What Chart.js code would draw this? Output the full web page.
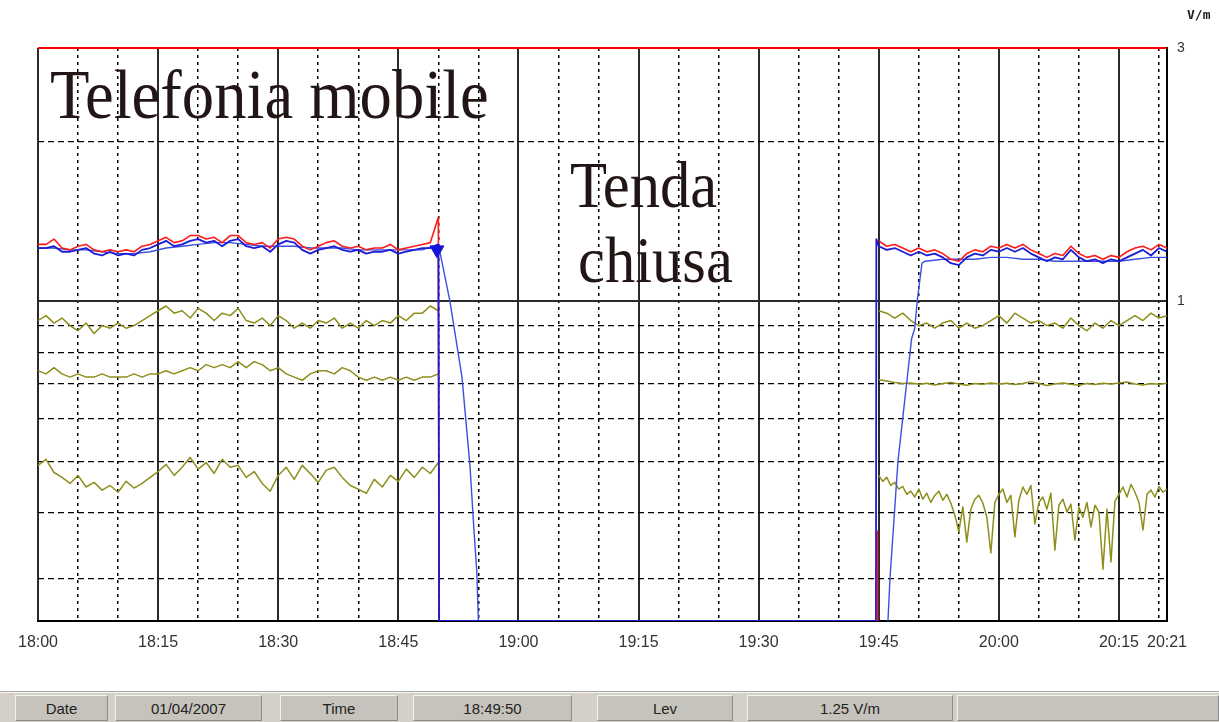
<!DOCTYPE html>
<html>
<head>
<meta charset="utf-8">
<script src="https://cdn.jsdelivr.net/npm/chart.js@4.4.0/dist/chart.umd.min.js"></script>
<style>
  body { margin: 0; background: #fff; width: 1219px; height: 722px; overflow: hidden; position: relative; font-family: "Liberation Sans", Arial, sans-serif; }
  #chart { position: absolute; left: 0; top: 0; }
  #unit { position: absolute; left: 1187px; top: 7px; font: bold 13px "DejaVu Sans Mono", monospace; color: #222; }
  #status { position: absolute; left: 0; top: 691px; width: 1219px; height: 31px; background: #d4d0c8; border-top: 1px solid #a8a8a8; box-shadow: inset 0 1px 0 #f6f6f6; }
  .cell { position: absolute; top: 3px; height: 26px; line-height: 25px; text-align: center; background: #c6c3bd; border: 1px solid; border-color: #f2f2f2 #8a8a8a #8a8a8a #f2f2f2; box-sizing: border-box; font-size: 15px; color: #222; }
</style>
</head>
<body>
<canvas id="chart" width="1219" height="680"></canvas>
<div id="unit">V/m</div>
<div id="status">
  <div class="cell" style="left:15px;width:93px">Date</div>
  <div class="cell" style="left:115px;width:147px">01/04/2007</div>
  <div class="cell" style="left:280px;width:118px">Time</div>
  <div class="cell" style="left:413px;width:159px">18:49:50</div>
  <div class="cell" style="left:597px;width:136px">Lev</div>
  <div class="cell" style="left:747px;width:206px">1.25 V/m</div>
  <div class="cell" style="left:957px;width:262px"></div>
</div>
<script>
// time axis: minutes after 18:00
const leftMinutes = Array.from({length: 51}, (_, i) => i);          // 18:00 .. 18:50
const rightMinutes = Array.from({length: 37}, (_, i) => 105 + i);   // 19:45 .. 20:21
const rightHalfMinutes = Array.from({length: 73}, (_, i) => 105 + i / 2);

const xTickMinutes = Array.from({length: 29}, (_, i) => i * 5).concat([141]);
const xLabelMinutes = [0, 15, 30, 45, 60, 75, 90, 105, 120, 135, 141];
const yGridValues = [0.3, 0.4, 0.5, 0.6, 0.7, 0.8, 0.9, 1, 2, 3];
const yLabelValues = [1, 3];

const floorLevel = 0.25;
const limitLevel = 3;

// red: peak level
const peakLeft = [1.28,1.28,1.31,1.26,1.25,1.27,1.28,1.25,1.24,1.25,
  1.24,1.25,1.24,1.27,1.28,1.30,1.32,1.29,1.30,1.33,
  1.33,1.31,1.32,1.29,1.33,1.33,1.29,1.28,1.29,1.26,
  1.31,1.32,1.31,1.27,1.25,1.27,1.29,1.30,1.27,1.26,
  1.27,1.25,1.26,1.26,1.28,1.25,1.26,1.27,1.28,1.29,
  1.44];
const peakJumpMinutes = [50.1, 104.8, 104.85];
const peakJump = [0.25, 0.25, 0.37];
const peakRight = [1.30,1.27,1.28,1.26,1.24,1.26,1.24,1.25,1.23,1.20,
  1.19,1.23,1.25,1.24,1.27,1.26,1.28,1.26,1.28,1.25,
  1.23,1.21,1.23,1.22,1.27,1.23,1.21,1.22,1.20,1.22,
  1.21,1.24,1.26,1.27,1.25,1.28,1.26];

// blue: instantaneous level
const levelLeft = [1.26,1.26,1.27,1.24,1.24,1.25,1.26,1.23,1.22,1.24,
  1.22,1.23,1.22,1.25,1.26,1.28,1.30,1.27,1.28,1.30,
  1.31,1.29,1.30,1.27,1.30,1.31,1.27,1.26,1.27,1.24,
  1.28,1.30,1.29,1.25,1.23,1.25,1.26,1.27,1.25,1.24,
  1.25,1.23,1.24,1.24,1.25,1.23,1.24,1.25,1.26,1.26,
  1.28];
const levelJumpMinutes = [50.1, 104.65, 104.7];
const levelJump = [0.25, 0.25, 1.31];
const levelRight = [1.27,1.25,1.26,1.24,1.22,1.24,1.22,1.23,1.21,1.18,
  1.17,1.21,1.23,1.22,1.25,1.24,1.26,1.24,1.26,1.23,
  1.21,1.19,1.21,1.20,1.25,1.21,1.19,1.20,1.18,1.20,
  1.19,1.21,1.23,1.25,1.22,1.26,1.24];

// light blue: running average
const avgLeftMinutes = [0,2,4,6,8,10,12,14,16,18,20,22,24,26,28,30,32,34,36,38,40,42,44,46,48,50,
  51.45,52.95,53.95,54.45,54.8,55];
const avgLeft = [1.26,1.26,1.25,1.25,1.24,1.23,1.23,1.24,1.26,1.27,
  1.28,1.29,1.29,1.28,1.27,1.27,1.27,1.26,1.26,1.26,
  1.25,1.25,1.25,1.25,1.25,1.28,
  1.0,0.72,0.49,0.37,0.31,0.25];
const avgRightMinutes = [106.15,106.4,107.4,109.1,109.5,109.8,110.4,110.8,
  113,115,117,119,121,123,125,127,129,131,133,135,137,139,141];
const avgRight = [0.25,0.30,0.50,0.85,0.89,1.0,1.18,1.19,
  1.20,1.20,1.20,1.21,1.21,1.20,1.20,1.19,1.19,1.19,1.19,1.19,1.20,1.21,1.21];

// olive: other bands
const oliveHighLeft = [0.92,0.94,0.91,0.93,0.90,0.88,0.91,0.87,0.90,0.89,
  0.91,0.89,0.90,0.92,0.94,0.96,0.98,0.95,0.96,0.93,
  0.97,0.95,0.92,0.95,0.94,0.97,0.92,0.91,0.93,0.90,
  0.94,0.92,0.89,0.91,0.89,0.92,0.91,0.93,0.89,0.91,
  0.89,0.92,0.90,0.92,0.91,0.94,0.92,0.95,0.95,0.98,
  0.96];
const oliveHighRight = [0.96,0.95,0.93,0.95,0.92,0.90,0.91,0.89,0.91,0.92,
  0.89,0.91,0.89,0.90,0.92,0.94,0.91,0.95,0.93,0.91,
  0.92,0.90,0.91,0.89,0.93,0.90,0.88,0.91,0.89,0.92,
  0.90,0.92,0.94,0.92,0.95,0.93,0.94];
const oliveMidLeft = [0.74,0.73,0.75,0.73,0.72,0.73,0.72,0.72,0.73,0.72,
  0.72,0.72,0.73,0.72,0.73,0.73,0.74,0.73,0.74,0.75,
  0.74,0.76,0.75,0.76,0.75,0.77,0.75,0.77,0.76,0.74,
  0.75,0.73,0.72,0.71,0.73,0.74,0.74,0.73,0.75,0.74,
  0.72,0.71,0.72,0.71,0.72,0.71,0.72,0.71,0.72,0.72,
  0.73];
const oliveMidRight = [0.712,0.708,0.703,0.700,0.702,0.698,0.701,0.696,0.700,0.703,
  0.699,0.695,0.700,0.698,0.702,0.699,0.701,0.697,0.700,0.706,
  0.700,0.694,0.699,0.702,0.698,0.695,0.700,0.697,0.701,0.699,
  0.702,0.705,0.699,0.696,0.700,0.698,0.701];
const oliveLowLeft = [0.491,0.504,0.476,0.466,0.454,0.470,0.447,0.456,0.441,0.450,
  0.437,0.458,0.445,0.454,0.466,0.478,0.493,0.470,0.487,0.508,
  0.483,0.497,0.474,0.504,0.487,0.491,0.466,0.478,0.454,0.439,
  0.470,0.487,0.462,0.491,0.474,0.456,0.481,0.487,0.466,0.450,
  0.443,0.435,0.462,0.447,0.470,0.458,0.483,0.466,0.487,0.474,
  0.497];
const oliveLowRight = [0.470,0.458,0.466,0.450,0.456,0.443,0.448,0.433,0.439,0.428,
  0.443,0.424,0.435,0.418,0.431,0.439,0.422,0.433,0.417,0.396,
  0.368,0.410,0.352,0.406,0.424,0.431,0.417,0.392,0.336,0.418,
  0.433,0.443,0.418,0.431,0.360,0.422,0.447,0.433,0.450,0.381,
  0.418,0.428,0.406,0.435,0.340,0.413,0.424,0.401,0.415,0.355,
  0.410,0.392,0.418,0.376,0.413,0.401,0.313,0.406,0.323,0.420,
  0.433,0.447,0.428,0.452,0.437,0.418,0.371,0.433,0.441,0.428,
  0.448,0.437,0.443];

// cursor
const cursorMinutes = [49.83];
const cursorLevel = [1.25];

function pts(times, values) {
  return times.map((t, i) => ({x: t, y: values[i]}));
}
const gap = [{x: 77, y: null}];

function hhmm(m) {
  const h = 18 + Math.floor(m / 60);
  return h + ':' + String(m % 60).padStart(2, '0');
}

// big text notes on the plot
const notesPlugin = {
  id: 'notes',
  afterDraw(chart) {
    const ctx = chart.ctx;
    const notes = [
      {text: 'Telefonia mobile', x: 50, y: 118, size: 64},
      {text: 'Tenda', x: 570, y: 207, size: 60},
      {text: 'chiusa', x: 578, y: 282, size: 60}
    ];
    ctx.save();
    ctx.fillStyle = '#221515';
    ctx.textBaseline = 'alphabetic';
    notes.forEach(n => {
      ctx.save();
      ctx.translate(n.x, n.y);
      ctx.scale(1.01, 1.1);
      ctx.font = n.size + 'px "Liberation Serif", "Times New Roman", serif';
      ctx.fillText(n.text, 0, 0);
      ctx.restore();
    });
    ctx.restore();
  }
};

const isMajorX = v => v % 15 === 0 || v === 141;

new Chart(document.getElementById('chart'), {
  type: 'line',
  data: {
    datasets: [
      {
        label: 'cursor',
        data: pts(cursorMinutes, cursorLevel),
        showLine: false,
        pointStyle: 'triangle',
        rotation: 180,
        pointRadius: 8,
        backgroundColor: '#1414d8',
        borderColor: '#1414d8'
      },
      {
        label: 'level',
        data: pts(leftMinutes, levelLeft).concat(pts(levelJumpMinutes, levelJump), pts(rightMinutes, levelRight)),
        borderColor: '#1c1cd6',
        borderWidth: 1.8
      },
      {
        label: 'peak',
        data: pts(leftMinutes, peakLeft).concat(pts(peakJumpMinutes, peakJump), gap, pts(rightMinutes, peakRight)),
        borderColor: '#ff1a1a',
        borderWidth: 1.6
      },
      {
        label: 'average',
        data: pts(avgLeftMinutes, avgLeft).concat(gap, pts(avgRightMinutes, avgRight)),
        borderColor: '#3c50e0',
        borderWidth: 1.4
      },
      {
        label: 'high band',
        data: pts(leftMinutes, oliveHighLeft).concat(gap, pts(rightMinutes, oliveHighRight)),
        borderColor: '#8e8e1c',
        borderWidth: 1.5
      },
      {
        label: 'mid band',
        data: pts(leftMinutes, oliveMidLeft).concat(gap, pts(rightMinutes, oliveMidRight)),
        borderColor: '#8e8e1c',
        borderWidth: 1.5
      },
      {
        label: 'low band',
        data: pts(leftMinutes, oliveLowLeft).concat(gap, pts(rightHalfMinutes, oliveLowRight)),
        borderColor: '#8e8e1c',
        borderWidth: 1.5
      }
    ]
  },
  options: {
    responsive: false,
    animation: false,
    layout: {padding: {left: 38, top: 48, right: 0, bottom: 0}},
    plugins: {legend: {display: false}, tooltip: {enabled: false}},
    elements: {
      point: {radius: 0},
      line: {tension: 0, borderJoinStyle: 'round'}
    },
    scales: {
      x: {
        type: 'linear',
        min: 0,
        max: 141,
        afterBuildTicks: s => { s.ticks = xTickMinutes.map(v => ({value: v})); },
        afterFit: s => { s.height = 59; },
        ticks: {
          autoSkip: false,
          maxRotation: 0,
          padding: 12,
          color: '#333',
          font: {size: 16, family: '"Liberation Sans", Arial, sans-serif'},
          callback: v => xLabelMinutes.includes(v) ? hhmm(v) : ''
        },
        grid: {
          drawTicks: false,
          color: ctx => isMajorX(ctx.tick.value) ? '#2a2a2a' : '#000',
          lineWidth: ctx => isMajorX(ctx.tick.value) ? 2 : 1.5
        },
        border: {
          display: true,
          color: '#000',
          width: 2,
          dash: ctx => ctx.tick && !isMajorX(ctx.tick.value) ? [3, 4] : []
        }
      },
      y: {
        type: 'logarithmic',
        position: 'right',
        min: floorLevel,
        max: limitLevel,
        afterBuildTicks: s => { s.ticks = yGridValues.map(v => ({value: v})); },
        afterFit: s => { s.width = 52; },
        ticks: {
          padding: 10,
          color: '#333',
          font: {size: 14, family: '"Liberation Sans", Arial, sans-serif'},
          callback: v => yLabelValues.includes(v) ? String(v) : ''
        },
        grid: {
          drawTicks: false,
          color: ctx => ctx.tick.value === limitLevel ? '#ff0000' : (ctx.tick.value === 1 ? '#2a2a2a' : '#000'),
          lineWidth: ctx => (ctx.tick.value === limitLevel || ctx.tick.value === 1) ? 2 : 1.3
        },
        border: {
          display: true,
          color: '#000',
          width: 2,
          dash: ctx => ctx.tick && ctx.tick.value !== 1 && ctx.tick.value !== limitLevel ? [6, 4] : []
        }
      }
    }
  },
  plugins: [notesPlugin]
});
</script>
</body>
</html>
